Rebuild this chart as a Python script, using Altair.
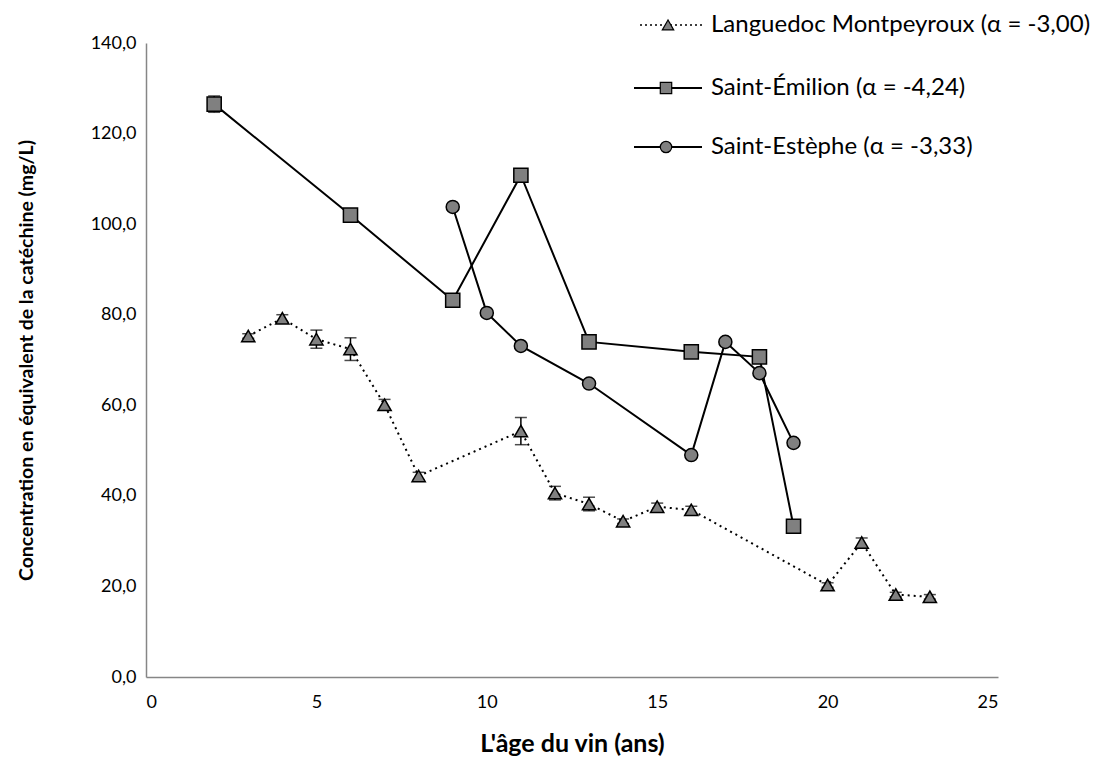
import altair as alt
import pandas as pd

# Data
lang_x = [3, 4, 5, 6, 7, 8, 11, 12, 13, 14, 15, 16, 20, 21, 22, 23]
lang_y = [75.3, 79.2, 74.6, 72.4, 60.1, 44.4, 54.3, 40.6, 38.2, 34.4, 37.6, 36.9, 20.3, 29.7, 18.2, 17.7]
lang_err = [0.5, 0.8, 2.0, 2.5, 1.2, 0.8, 3.0, 1.5, 1.5, 0.5, 0.8, 0.8, 0.5, 1.0, 0.5, 0.5]

emil_x = [2, 6, 9, 11, 13, 16, 18, 19]
emil_y = [126.5, 102.0, 83.2, 110.8, 74.0, 71.8, 70.7, 33.3]
emil_err = [1.8, 0, 0, 0, 0, 0, 0, 0]

este_x = [9, 10, 11, 13, 16, 17, 18, 19]
este_y = [103.8, 80.4, 73.1, 64.8, 49.0, 74.0, 67.1, 51.7]

series_names = ["Languedoc Montpeyroux (α = -3,00)", "Saint-Émilion (α = -4,24)", "Saint-Estèphe (α = -3,33)"]

FONT = "Lato"
GREY = "#808080"

lang = pd.DataFrame({"x": lang_x, "y": lang_y, "lo": [a - b for a, b in zip(lang_y, lang_err)], "hi": [a + b for a, b in zip(lang_y, lang_err)]})
emil = pd.DataFrame({"x": emil_x, "y": emil_y, "lo": [a - b for a, b in zip(emil_y, emil_err)], "hi": [a + b for a, b in zip(emil_y, emil_err)]})
emil_e = emil[[e > 0 for e in emil_err]]
este = pd.DataFrame({"x": este_x, "y": este_y})

xs = alt.Scale(domain=[0, 25], nice=False)
ys = alt.Scale(domain=[0, 140], nice=False)

X = alt.X("x:Q", scale=xs, axis=alt.Axis(values=[0, 5, 10, 15, 20, 25], title="L'âge du vin (ans)",
                                          grid=False, ticks=False, domainColor="#868686", domainWidth=1.5,
                                          labelFont=FONT, labelFontSize=18, labelColor="#000000", labelPadding=16,
                                          titleFont=FONT, titleFontSize=25, titleFontWeight="bold",
                                          titlePadding=20, titleColor="#000000"))
Y = alt.Y("y:Q", scale=ys, axis=alt.Axis(values=list(range(0, 141, 20)),
                                          labelExpr="replace(format(datum.value, '.1f'), '.', ',')",
                                          title="Concentration en équivalent de la catéchine (mg/L)",
                                          grid=False, ticks=False, domainColor="#868686", domainWidth=1.5,
                                          labelFont=FONT, labelFontSize=18, labelColor="#000000", labelPadding=10,
                                          titleFont=FONT, titleFontSize=19.5, titleFontWeight="bold",
                                          titlePadding=54, titleColor="#000000"))

def line(df, dash=None):
    kw = dict(color="black", strokeWidth=2)
    if dash:
        kw["strokeDash"] = dash
    return alt.Chart(df).mark_line(**kw).encode(x=X, y=Y)

def pts(df, shape, size):
    return alt.Chart(df).mark_point(shape=shape, size=size, filled=True, fill=GREY, stroke="black",
                                    strokeWidth=1.5, opacity=1).encode(x=X, y=Y)

def err(df):
    return alt.Chart(df).mark_errorbar(ticks=alt.MarkConfig(size=12, color="black", strokeWidth=1.5),
                                       color="black", thickness=1.5).encode(
        x=alt.X("x:Q", scale=xs), y=alt.Y("lo:Q", scale=ys, title=""), y2="hi:Q")

# Legend (drawn manually)
leg = pd.DataFrame({"name": series_names, "ly": [-18, 45, 104], "x1": [494, 488, 488], "x2": [556, 556, 556],
                    "mx": [522, 520, 520], "shape": ["triangle-up", "square", "circle"]})
leg_lines = []
for i, dash in enumerate([[2, 3], None, None]):
    d = leg.iloc[[i]]
    kw = dict(color="black", strokeWidth=1.5 if dash else 2)
    if dash:
        kw["strokeDash"] = dash
    leg_lines.append(alt.Chart(d).mark_rule(**kw).encode(
        x=alt.X("x1:Q", scale=None), x2="x2:Q", y=alt.Y("ly:Q", scale=None)))
leg_pts = alt.Chart(leg).mark_point(filled=True, fill=GREY, stroke="black", strokeWidth=1.2, opacity=1, size=130).encode(
    x=alt.X("mx:Q", scale=None), y=alt.Y("ly:Q", scale=None),
    shape=alt.Shape("shape:N", scale=None, legend=None))
leg_txt = alt.Chart(leg).mark_text(align="left", baseline="middle", font=FONT, fontSize=24, color="black").encode(
    x=alt.value(565), y=alt.Y("ly:Q", scale=None), text="name:N")

chart = alt.layer(
    line(lang, [2, 4]), line(emil), line(este),
    err(lang), err(emil_e),
    pts(lang, "triangle-up", 175), pts(emil, "square", 200), pts(este, "circle", 170),
    *leg_lines, leg_pts, leg_txt
).properties(
    width=852, height=634,
    autosize=alt.AutoSizeParams(type="none"),
    padding={"left": 138, "top": 35, "right": 97, "bottom": 79},
).configure_view(stroke=None)

chart.save("out.html", embed_options={"renderer": "svg", "actions": False})
